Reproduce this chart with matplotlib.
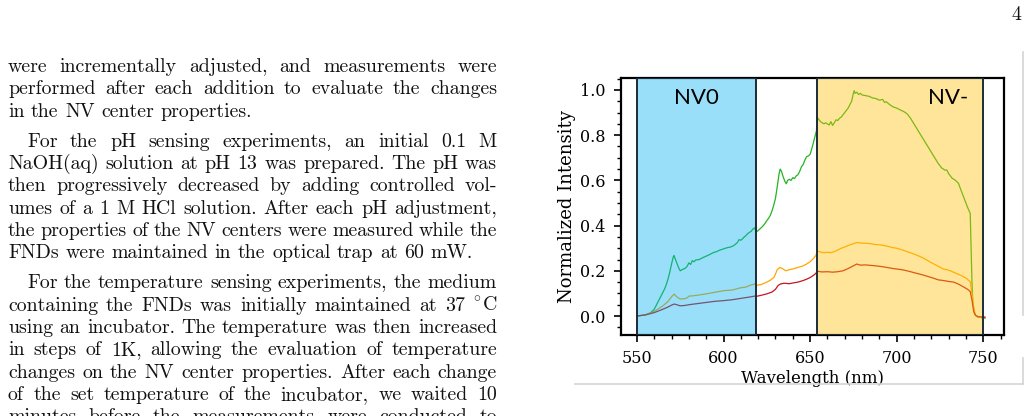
import matplotlib
matplotlib.use("Agg")
import matplotlib.pyplot as plt
from matplotlib.lines import Line2D
from matplotlib.transforms import IdentityTransform
from matplotlib.ticker import MultipleLocator

plt.rcParams['mathtext.fontset'] = 'cm'

# ---------------- data ----------------
wl_green = [550, 552, 554, 556, 558, 560, 561, 562, 563, 564, 565, 566, 567, 568, 569, 570,
            571, 571.5, 572, 573, 574, 575, 576, 577, 578, 579, 580, 581, 582, 583, 584, 586,
            588, 590, 592, 594, 596, 598, 600, 602, 604, 606, 607, 608, 609, 610, 611, 612,
            613, 614, 615, 616, 617, 618, 618.5, 619, 620, 621, 622, 623, 624, 625, 626, 627,
            628, 629, 630, 631, 632, 632.7, 633.5, 634.5, 635.5, 636.3, 637, 638, 639, 640,
            641, 642, 643, 644, 645, 646, 647, 648, 649, 650, 651, 652, 653, 653.7, 654, 655,
            656, 657, 658, 659, 660, 661, 662, 663, 664, 665, 666, 667, 668, 669, 670, 671,
            672, 673, 674, 675, 675.5, 676, 677, 678, 679, 680, 682, 684, 686, 688, 690, 692,
            693, 694, 696, 698, 700, 702, 704, 706, 708, 710, 712, 714, 716, 718, 720, 722,
            724, 726, 728, 729, 730, 732, 734, 735.7, 737, 739, 741, 742.5, 743, 743.5, 744,
            745, 746, 747, 748, 749, 750, 751]
green = [0.000, 0.002, 0.004, 0.008, 0.015, 0.030, 0.045, 0.060, 0.075, 0.090, 0.105, 0.120,
         0.140, 0.165, 0.195, 0.230, 0.262, 0.268, 0.255, 0.235, 0.215, 0.200, 0.205, 0.208,
         0.212, 0.220, 0.235, 0.228, 0.245, 0.240, 0.248, 0.250, 0.258, 0.265, 0.272, 0.280,
         0.285, 0.292, 0.297, 0.302, 0.305, 0.312, 0.318, 0.325, 0.338, 0.335, 0.342, 0.350,
         0.356, 0.365, 0.370, 0.375, 0.385, 0.390, 0.378, 0.372, 0.378, 0.385, 0.392, 0.400,
         0.410, 0.422, 0.432, 0.445, 0.465, 0.490, 0.520, 0.570, 0.625, 0.650, 0.640, 0.615,
         0.595, 0.585, 0.600, 0.605, 0.600, 0.612, 0.608, 0.620, 0.625, 0.640, 0.660, 0.670,
         0.690, 0.705, 0.708, 0.715, 0.740, 0.770, 0.800, 0.820, 0.880, 0.870, 0.860, 0.855,
         0.850, 0.855, 0.850, 0.845, 0.860, 0.843, 0.855, 0.868, 0.865, 0.875, 0.880, 0.890,
         0.900, 0.910, 0.920, 0.935, 0.950, 0.985, 0.997, 0.985, 0.990, 0.980, 0.985, 0.978,
         0.975, 0.972, 0.965, 0.962, 0.955, 0.958, 0.945, 0.948, 0.935, 0.925, 0.920, 0.912,
         0.905, 0.895, 0.875, 0.850, 0.825, 0.800, 0.775, 0.750, 0.725, 0.700, 0.675, 0.655,
         0.645, 0.646, 0.630, 0.610, 0.600, 0.587, 0.560, 0.520, 0.480, 0.454, 0.300, 0.150,
         0.060, 0.010, 0.000, -0.005, -0.003, -0.008, -0.004, -0.010]

wl_orange = [550, 555, 560, 565, 568, 570, 571.5, 573, 575, 577, 579, 580, 582, 585, 590, 595,
             600, 605, 610, 613, 615, 618, 619, 622, 625, 627, 629, 630, 631, 632.5, 634, 636,
             638, 640, 643, 646, 648, 650, 652, 653.5, 654, 656, 658, 660, 662, 664, 666, 668,
             670, 672, 675, 677, 679, 682, 685, 688, 690, 692, 695, 698, 700, 703, 706, 709,
             712, 715, 718, 721, 724, 727, 729, 731, 734, 737, 740, 742.5, 743.5, 744.5, 745.5,
             747, 749, 751]
orange = [0.000, 0.005, 0.020, 0.045, 0.065, 0.085, 0.097, 0.085, 0.075, 0.076, 0.080, 0.088,
          0.089, 0.092, 0.098, 0.105, 0.112, 0.115, 0.125, 0.128, 0.135, 0.142, 0.135, 0.140,
          0.150, 0.158, 0.170, 0.185, 0.205, 0.215, 0.210, 0.200, 0.205, 0.208, 0.215, 0.222,
          0.230, 0.240, 0.255, 0.270, 0.288, 0.283, 0.280, 0.282, 0.280, 0.285, 0.292, 0.300,
          0.305, 0.312, 0.320, 0.325, 0.323, 0.322, 0.320, 0.316, 0.315, 0.313, 0.308, 0.302,
          0.300, 0.293, 0.285, 0.277, 0.268, 0.258, 0.245, 0.232, 0.220, 0.208, 0.205, 0.200,
          0.190, 0.180, 0.168, 0.152, 0.100, 0.035, 0.005, -0.003, -0.004, -0.006]

wl_red = [550, 555, 560, 565, 568, 570, 571.5, 573, 575, 578, 580, 585, 590, 595, 600, 605,
          610, 615, 618, 619, 622, 625, 628, 630, 631.5, 633, 635, 638, 640, 643, 646, 648,
          650, 652, 653.5, 654, 657, 660, 663, 666, 669, 672, 674, 677, 679, 682, 685, 688,
          690, 692, 695, 698, 700, 703, 706, 709, 712, 715, 718, 721, 724, 727, 730, 733,
          736, 739, 741, 742.5, 743.5, 744.5, 745.5, 747, 749, 751]
red = [0.000, 0.005, 0.015, 0.030, 0.040, 0.048, 0.053, 0.050, 0.045, 0.047, 0.050, 0.055,
       0.060, 0.065, 0.068, 0.072, 0.078, 0.084, 0.088, 0.087, 0.092, 0.098, 0.106, 0.118,
       0.135, 0.142, 0.145, 0.143, 0.146, 0.150, 0.157, 0.163, 0.170, 0.180, 0.190, 0.198,
       0.195, 0.196, 0.194, 0.196, 0.200, 0.210, 0.218, 0.230, 0.225, 0.226, 0.224, 0.222,
       0.220, 0.218, 0.214, 0.210, 0.208, 0.205, 0.200, 0.194, 0.188, 0.182, 0.175, 0.168,
       0.160, 0.157, 0.153, 0.150, 0.140, 0.127, 0.118, 0.108, 0.070, 0.020, 0.003, -0.003,
       -0.004, -0.005]

nv0_band = (550, 618.8)
nvm_band = (653.8, 750)

paragraphs = [
    ["were incrementally adjusted, and measurements were",
     "performed after each addition to evaluate the changes",
     "in the NV center properties."],
    ["For the pH sensing experiments, an initial 0.1 M",
     "NaOH(aq) solution at pH 13 was prepared. The pH was",
     "then progressively decreased by adding controlled vol-",
     "umes of a 1 M HCl solution. After each pH adjustment,",
     "the properties of the NV centers were measured while the",
     "FNDs were maintained in the optical trap at 60 mW."],
    ["For the temperature sensing experiments, the medium",
     "containing the FNDs was initially maintained at 37 °C",
     "using an incubator. The temperature was then increased",
     "in steps of 1K, allowing the evaluation of temperature",
     "changes on the NV center properties. After each change",
     "of the set temperature of the incubator, we waited 10",
     "minutes before the measurements were conducted to"],
]
# first line of each paragraph indented, last line ragged (except the cut-off one)
para_indent = [False, True, True]
para_last_ragged = [True, True, False]

# ---------------- figure ----------------
W, H = 1030, 416
fig = plt.figure(figsize=(W / 100, H / 100), dpi=100)
renderer = fig.canvas.get_renderer()

TEXT_FONT = ['cmr10', 'DejaVu Serif']
TEXT_SIZE = 14.3
LINE_H = 22.3
PARA_GAP = 7.8
X_LEFT, X_RIGHT, INDENT = 8, 497, 19
space_px = 0.333 * TEXT_SIZE * 100 / 72


def put_line(line, baseline, x0, x1, justify):
    words = line.split(" ")
    objs = []
    for w in words:
        # cmr10 has no degree sign, use the math font for it
        s = r"$^{\circ}\mathrm{C}$" if w == "°C" else w
        objs.append(fig.text(0, H - baseline, s, transform=IdentityTransform(),
                             fontsize=TEXT_SIZE, family=TEXT_FONT, va='baseline',
                             color='#111111'))
    widths = [o.get_window_extent(renderer).width for o in objs]
    if justify and len(words) > 1:
        gap = (x1 - x0 - sum(widths)) / (len(words) - 1)
    else:
        gap = space_px
    x = x0
    for o, w in zip(objs, widths):
        o.set_x(x)
        x += w + gap


baseline = 72.0
for p, lines in enumerate(paragraphs):
    for i, line in enumerate(lines):
        x0 = X_LEFT + (INDENT if (i == 0 and para_indent[p]) else 0)
        last = (i == len(lines) - 1) and para_last_ragged[p]
        put_line(line, baseline, x0, X_RIGHT, not last)
        baseline += LINE_H
    baseline += PARA_GAP

# page number
fig.text(1021, H - 20, "4", transform=IdentityTransform(), fontsize=TEXT_SIZE,
         family=TEXT_FONT, ha='right', va='baseline', color='#111111')

# light gray frame around the figure block
frame_kw = dict(color='#d4d4d4', lw=1.2, transform=fig.transFigure)
fig.add_artist(Line2D([575 / W, 1023 / W], [1 - 384 / H, 1 - 384 / H], **frame_kw))
fig.add_artist(Line2D([1023 / W, 1023 / W], [1 - 52 / H, 1 - 315 / H], **frame_kw))
fig.add_artist(Line2D([1023 / W, 1023 / W], [1 - 358 / H, 1 - 384 / H], **frame_kw))

# ---------------- chart ----------------
ax = fig.add_axes([621 / W, 1 - 335 / H, (1004 - 621) / W, (335 - 78) / H])

ax.plot(wl_green, green, color='#22b422', lw=0.9, zorder=2)
ax.plot(wl_orange, orange, color='#ffa500', lw=0.9, zorder=2)
ax.plot(wl_red, red, color='#c8141e', lw=0.9, zorder=2)

ax.axvspan(*nv0_band, facecolor=(0 / 255, 176 / 255, 240 / 255, 0.4),
           edgecolor='#1c2b38', lw=1.4, zorder=3)
ax.axvspan(*nvm_band, facecolor=(255 / 255, 192 / 255, 0 / 255, 0.4),
           edgecolor='#1c2b38', lw=1.4, zorder=3)

ax.text(584.5, 0.965, "NV0", fontsize=16, family='Lato', ha='center', va='center', zorder=4)
ax.text(730, 0.965, "NV-", fontsize=16, family='Lato', ha='center', va='center', zorder=4)

ax.set_xlim(540.8, 762)
ax.set_ylim(-0.084, 1.053)
ax.xaxis.set_major_locator(MultipleLocator(50))
ax.xaxis.set_minor_locator(MultipleLocator(10))
ax.yaxis.set_major_locator(MultipleLocator(0.2))
ax.yaxis.set_minor_locator(MultipleLocator(0.05))
ax.tick_params(which='major', length=5, width=1.2, labelsize=11.5, pad=6)
ax.tick_params(which='minor', length=3, width=1.0)
for lab in ax.get_xticklabels() + ax.get_yticklabels():
    lab.set_family('DejaVu Serif')
for s in ax.spines.values():
    s.set_linewidth(1.6)

ax.set_xlabel("Wavelength (nm)", family='DejaVu Serif', fontsize=12, labelpad=2)
ax.set_ylabel("Normalized Intensity", family='DejaVu Serif', fontsize=13, labelpad=3)

fig.savefig("out.png", dpi=100)
